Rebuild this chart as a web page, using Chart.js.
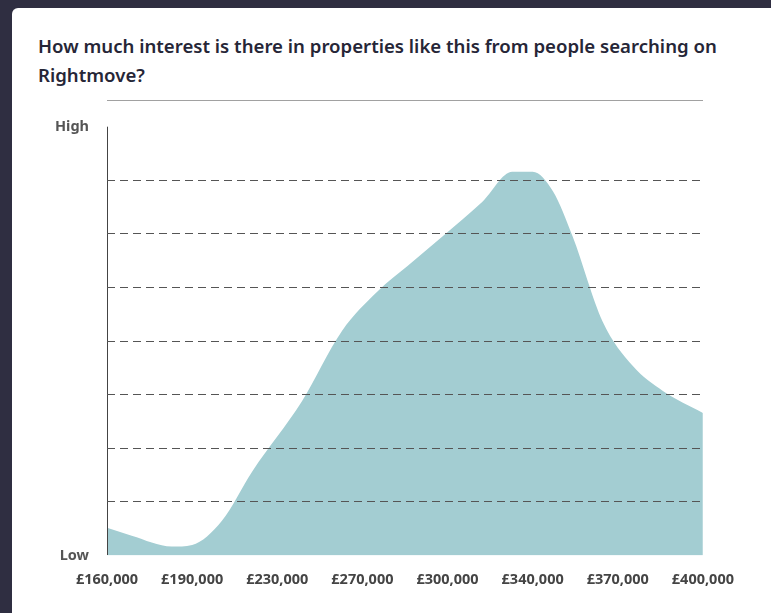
<!DOCTYPE html>
<html><head><meta charset="utf-8">
<script src="https://cdn.jsdelivr.net/npm/chart.js@4"></script>
<style>
body{margin:0;background:#2f2e41;width:771px;height:613px;overflow:hidden;font-family:"Noto Sans",sans-serif}
.card{position:absolute;left:12px;top:8px;width:780px;height:640px;background:#fff;border-radius:6px}
h1{position:absolute;left:38px;top:31px;margin:0;width:720px;font-size:18.6px;font-weight:600;line-height:29px;color:#262637}
.wrap{position:absolute;left:30px;top:100px;width:720px;height:505px}
</style></head><body>
<div class="card"></div>
<h1>How much interest is there in properties like this from people searching on Rightmove?</h1>
<div class="wrap"><canvas id="c"></canvas></div>
<script>
const priceLabels = ['£160,000','£190,000','£230,000','£270,000','£300,000','£340,000','£370,000','£400,000'];
const xPos = [0, 0.29, 0.76, 1.0, 1.35, 1.71, 2.29, 2.76, 3.18, 3.53, 3.94, 4.41, 4.76, 5.0, 5.24, 5.47, 5.82, 6.18, 6.53, 7.0];
const interest = [0.52, 0.37, 0.17, 0.2, 0.65, 1.58, 2.88, 4.19, 4.93, 5.4, 5.95, 6.6, 7.16, 7.16, 6.79, 5.95, 4.37, 3.53, 3.07, 2.66];

new Chart(document.getElementById('c'), {
    type: 'line',
    data: {
        datasets: [{
            data: xPos.map((x, i) => ({x: x, y: interest[i]})),
            borderColor: 'rgba(0,0,0,0)',
            backgroundColor: '#a3cdd2',
            fill: 'origin',
            tension: 0.4,
            cubicInterpolationMode: 'monotone',
            pointRadius: 0
        }]
    },
    options: {
        responsive: true,
        maintainAspectRatio: false,
        animation: false,
        layout: {padding: {left: 7, right: 16, top: 15}},
        plugins: {legend: {display: false}, tooltip: {enabled: false}},
        scales: {
            x: {
                type: 'linear', min: 0, max: 7,
                grid: {
                    color: c => c.tick.value === 0 ? '#444' : 'rgba(0,0,0,0)',
                    drawTicks: false, z: 1
                },
                border: {color: '#444', width: 1},
                ticks: {
                    stepSize: 1, color: '#444', padding: 16, maxRotation: 0, autoSkip: false,
                    font: {family: 'Noto Sans', size: 14.5, weight: 'bold'},
                    callback: v => priceLabels[v]
                }
            },
            y: {
                min: 0, max: 8,
                grid: {
                    color: c => (c.tick.value === 0 || c.tick.value === 8) ? 'rgba(0,0,0,0)' : '#555',
                    drawTicks: false, z: 1
                },
                border: {display: false, dash: [8, 5]},
                ticks: {
                    stepSize: 1, color: '#555', padding: 18,
                    font: {family: 'Noto Sans', size: 14.5, weight: 'bold'},
                    callback: v => v === 8 ? 'High' : v === 0 ? 'Low' : ''
                }
            }
        }
    }
});
</script>
</body></html>
